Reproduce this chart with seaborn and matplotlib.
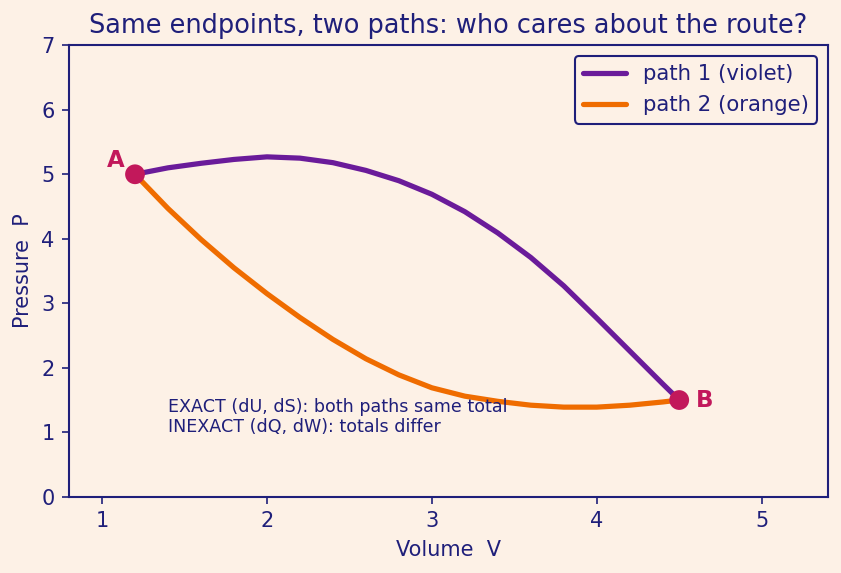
import numpy as np
import pandas as pd
import matplotlib
matplotlib.use("Agg")
import matplotlib.pyplot as plt
import seaborn as sns

# values
v_path1 = [1.2, 1.4, 1.6, 1.8, 2.0, 2.2, 2.4, 2.6, 2.8, 3.0, 3.2, 3.4, 3.6, 3.8, 4.0, 4.2, 4.4, 4.5]
p_path1 = [5.00, 5.10, 5.17, 5.23, 5.27, 5.25, 5.18, 5.06, 4.90, 4.69, 4.42, 4.09, 3.71, 3.27, 2.77, 2.26, 1.75, 1.50]
v_path2 = [1.2, 1.4, 1.6, 1.8, 2.0, 2.2, 2.4, 2.6, 2.8, 3.0, 3.2, 3.4, 3.6, 3.8, 4.0, 4.2, 4.4, 4.5]
p_path2 = [5.00, 4.47, 3.99, 3.55, 3.15, 2.78, 2.44, 2.14, 1.89, 1.69, 1.56, 1.48, 1.42, 1.39, 1.39, 1.42, 1.47, 1.50]
endpoint_names = ["A", "B"]
endpoint_v = [1.2, 4.5]
endpoint_p = [5.0, 1.5]

BG = "#fdf1e6"
NAVY = "#1f1f7a"
VIOLET = "#6a1b9a"
ORANGE = "#ef6c00"
CRIMSON = "#c2185b"

df = pd.concat([
    pd.DataFrame({"V": v_path1, "P": p_path1, "path": "path 1 (violet)"}),
    pd.DataFrame({"V": v_path2, "P": p_path2, "path": "path 2 (orange)"}),
])

sns.set_style("white")
plt.rcParams["font.family"] = ["DejaVu Sans"]

fig, ax = plt.subplots(figsize=(5.613, 3.82), dpi=150)
fig.patch.set_facecolor(BG)
ax.set_facecolor(BG)
fig.subplots_adjust(left=0.082, right=0.983, top=0.921, bottom=0.133)

sns.lineplot(data=df, x="V", y="P", hue="path", sort=False, estimator=None,
             palette=[VIOLET, ORANGE], linewidth=2.5, ax=ax)
sns.scatterplot(x=endpoint_v, y=endpoint_p, color=CRIMSON, s=90, edgecolor="none",
                zorder=5, ax=ax, legend=False)

# endpoint labels
ax.text(endpoint_v[0] - 0.06, endpoint_p[0] + 0.04, endpoint_names[0], color=CRIMSON,
        fontsize=11, fontweight="bold", ha="right", va="bottom")
ax.text(endpoint_v[1] + 0.1, endpoint_p[1], endpoint_names[1], color=CRIMSON,
        fontsize=11, fontweight="bold", ha="left", va="center")

ax.text(1.4, 0.95, "EXACT (dU, dS): both paths same total\nINEXACT (dQ, dW): totals differ",
        color=NAVY, fontsize=8.4, ha="left", va="bottom", linespacing=1.08)

ax.set_xlim(0.8, 5.4)
ax.set_ylim(0, 7)
ax.set_xticks([1, 2, 3, 4, 5])
ax.set_yticks(range(0, 8))
ax.set_xlabel("Volume  V", color=NAVY, fontsize=10)
ax.set_ylabel("Pressure  P", color=NAVY, fontsize=10)
ax.set_title("Same endpoints, two paths: who cares about the route?", color=NAVY, fontsize=12.3)
ax.tick_params(colors=NAVY, labelsize=10, length=3.5, width=0.8, direction="out",
               bottom=True, left=True)
for s in ax.spines.values():
    s.set_color(NAVY)
    s.set_linewidth(1.0)

leg = ax.legend(loc="upper right", fontsize=10.2, frameon=True, fancybox=True)
leg.get_frame().set_edgecolor(NAVY)
leg.get_frame().set_facecolor(BG)
leg.get_frame().set_alpha(1)
for t in leg.get_texts():
    t.set_color(NAVY)
for line in leg.get_lines():
    line.set_linewidth(2.5)

fig.savefig("out.png", dpi=150, facecolor=BG)
